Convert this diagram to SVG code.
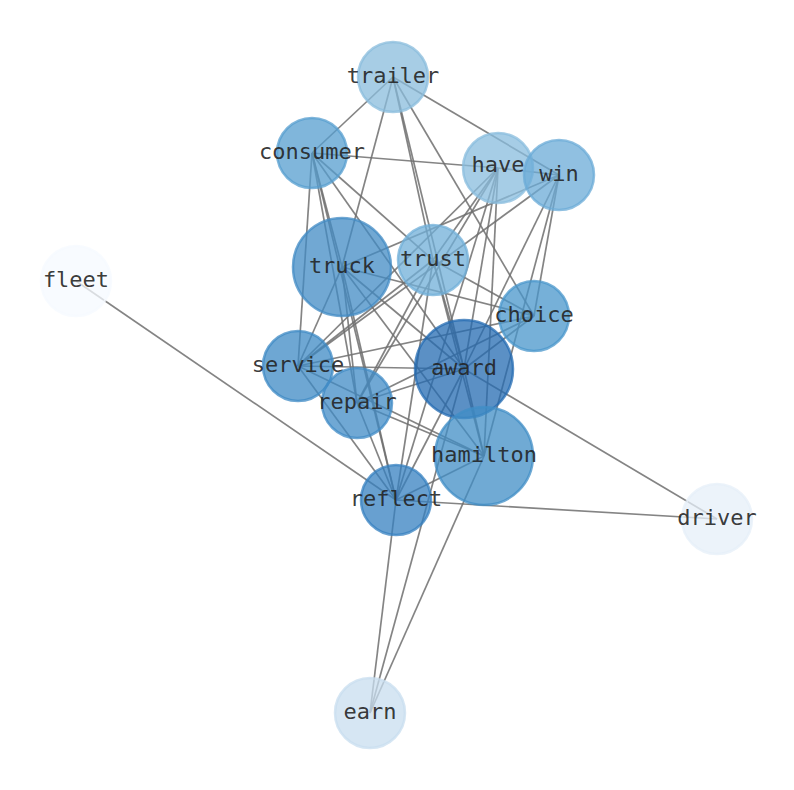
<svg xmlns="http://www.w3.org/2000/svg" width="794" height="790" viewBox="0 0 794 790">
<style>
.e{stroke:#6e6e6e;stroke-opacity:0.85;stroke-width:1.7;fill:none}
.n{fill-opacity:0.75;stroke-opacity:0.75;stroke-width:2.5}
.t{font-family:"DejaVu Sans Mono","Liberation Mono",monospace;font-size:22px;fill:#222;fill-opacity:0.9;text-anchor:middle}
</style>
<rect width="794" height="790" fill="#fff"/>
<g id="edges">
<line class="e" x1="393" y1="77" x2="312" y2="153"/>
<line class="e" x1="393" y1="77" x2="342" y2="267"/>
<line class="e" x1="393" y1="77" x2="433" y2="260"/>
<line class="e" x1="393" y1="77" x2="534" y2="316"/>
<line class="e" x1="393" y1="77" x2="559" y2="175"/>
<line class="e" x1="393" y1="77" x2="464" y2="369"/>
<line class="e" x1="312" y1="153" x2="498" y2="168"/>
<line class="e" x1="498" y1="168" x2="559" y2="175"/>
<line class="e" x1="312" y1="153" x2="298" y2="366"/>
<line class="e" x1="312" y1="153" x2="342" y2="267"/>
<line class="e" x1="312" y1="153" x2="357" y2="403"/>
<line class="e" x1="312" y1="153" x2="396" y2="500"/>
<line class="e" x1="312" y1="153" x2="464" y2="369"/>
<line class="e" x1="312" y1="153" x2="433" y2="260"/>
<line class="e" x1="498" y1="168" x2="433" y2="260"/>
<line class="e" x1="498" y1="168" x2="357" y2="403"/>
<line class="e" x1="498" y1="168" x2="396" y2="500"/>
<line class="e" x1="498" y1="168" x2="464" y2="369"/>
<line class="e" x1="498" y1="168" x2="484" y2="456"/>
<line class="e" x1="498" y1="168" x2="298" y2="366"/>
<line class="e" x1="559" y1="175" x2="342" y2="267"/>
<line class="e" x1="559" y1="175" x2="464" y2="369"/>
<line class="e" x1="559" y1="175" x2="534" y2="316"/>
<line class="e" x1="559" y1="175" x2="484" y2="456"/>
<line class="e" x1="559" y1="175" x2="298" y2="366"/>
<line class="e" x1="342" y1="267" x2="534" y2="316"/>
<line class="e" x1="342" y1="267" x2="298" y2="366"/>
<line class="e" x1="342" y1="267" x2="357" y2="403"/>
<line class="e" x1="342" y1="267" x2="396" y2="500"/>
<line class="e" x1="342" y1="267" x2="464" y2="369"/>
<line class="e" x1="342" y1="267" x2="484" y2="456"/>
<line class="e" x1="433" y1="260" x2="298" y2="366"/>
<line class="e" x1="433" y1="260" x2="357" y2="403"/>
<line class="e" x1="433" y1="260" x2="396" y2="500"/>
<line class="e" x1="433" y1="260" x2="464" y2="369"/>
<line class="e" x1="433" y1="260" x2="484" y2="456"/>
<line class="e" x1="433" y1="260" x2="534" y2="316"/>
<line class="e" x1="534" y1="316" x2="298" y2="366"/>
<line class="e" x1="534" y1="316" x2="357" y2="403"/>
<line class="e" x1="534" y1="316" x2="464" y2="369"/>
<line class="e" x1="298" y1="366" x2="464" y2="369"/>
<line class="e" x1="298" y1="366" x2="484" y2="456"/>
<line class="e" x1="298" y1="366" x2="396" y2="500"/>
<line class="e" x1="357" y1="403" x2="464" y2="369"/>
<line class="e" x1="357" y1="403" x2="484" y2="456"/>
<line class="e" x1="357" y1="403" x2="396" y2="500"/>
<line class="e" x1="464" y1="369" x2="484" y2="456"/>
<line class="e" x1="464" y1="369" x2="396" y2="500"/>
<line class="e" x1="464" y1="369" x2="717" y2="519"/>
<line class="e" x1="464" y1="369" x2="370" y2="713"/>
<line class="e" x1="484" y1="456" x2="396" y2="500"/>
<line class="e" x1="484" y1="456" x2="370" y2="713"/>
<line class="e" x1="396" y1="500" x2="76" y2="281"/>
<line class="e" x1="396" y1="500" x2="717" y2="519"/>
<line class="e" x1="396" y1="500" x2="370" y2="713"/>
</g>
<g id="node-trailer"><circle class="n" cx="393" cy="77" r="35" fill="#8abcdc" stroke="#8abcdc"/><text class="t" x="393" y="83">trailer</text></g>
<g id="node-consumer"><circle class="n" cx="312" cy="153" r="35" fill="#569ecf" stroke="#569ecf"/><text class="t" x="312" y="159">consumer</text></g>
<g id="node-have"><circle class="n" cx="498" cy="168" r="35" fill="#88bcde" stroke="#88bcde"/><text class="t" x="498" y="172">have</text></g>
<g id="node-win"><circle class="n" cx="559" cy="175" r="35" fill="#6babd7" stroke="#6babd7"/><text class="t" x="559" y="181">win</text></g>
<g id="node-truck"><circle class="n" cx="342" cy="267" r="49" fill="#428bc4" stroke="#428bc4"/><text class="t" x="342" y="273">truck</text></g>
<g id="node-trust"><circle class="n" cx="433" cy="260" r="35" fill="#70afd8" stroke="#70afd8"/><text class="t" x="433" y="266">trust</text></g>
<g id="node-fleet"><circle class="n" cx="76" cy="281" r="35" fill="#f5faff" stroke="#f5faff"/><text class="t" x="76" y="287">fleet</text></g>
<g id="node-choice"><circle class="n" cx="534" cy="316" r="35" fill="#4896cb" stroke="#4896cb"/><text class="t" x="534" y="322">choice</text></g>
<g id="node-service"><circle class="n" cx="298" cy="366" r="35" fill="#3e8ac4" stroke="#3e8ac4"/><text class="t" x="298" y="372">service</text></g>
<g id="node-award"><circle class="n" cx="464" cy="369" r="49" fill="#246bb2" stroke="#246bb2"/><text class="t" x="464" y="375">award</text></g>
<g id="node-repair"><circle class="n" cx="357" cy="403" r="35" fill="#408bc5" stroke="#408bc5"/><text class="t" x="357" y="409">repair</text></g>
<g id="node-hamilton"><circle class="n" cx="484" cy="456" r="49" fill="#408ec6" stroke="#408ec6"/><text class="t" x="484" y="462">hamilton</text></g>
<g id="node-reflect"><circle class="n" cx="396" cy="500" r="35" fill="#3680c0" stroke="#3680c0"/><text class="t" x="396" y="506">reflect</text></g>
<g id="node-driver"><circle class="n" cx="717" cy="519" r="35" fill="#e6eff8" stroke="#e6eff8"/><text class="t" x="717" y="525">driver</text></g>
<g id="node-earn"><circle class="n" cx="370" cy="713" r="35" fill="#c8ddef" stroke="#c8ddef"/><text class="t" x="370" y="719">earn</text></g>
</svg>
